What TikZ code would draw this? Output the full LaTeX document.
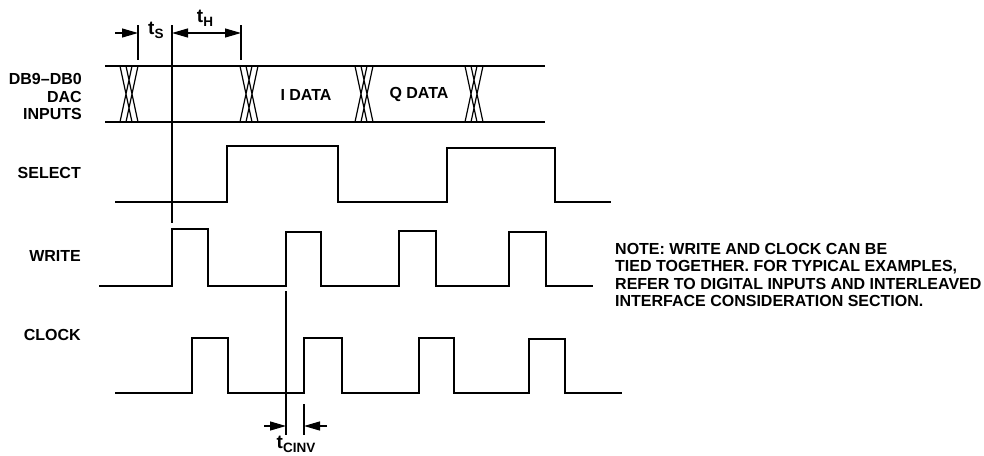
\documentclass[tikz,border=0pt]{standalone}
\usepackage{fontspec}
\setmainfont{Liberation Sans}
\usetikzlibrary{arrows.meta}
\newcommand{\tlabel}[1]{{\fontsize{19}{19}\selectfont t}\raisebox{-4pt}{\fontsize{13.5}{13.5}\selectfont #1}}

\begin{document}
\begin{tikzpicture}[x=1pt,y=-1pt]
	\tikzstyle{signal} = [draw=black, line width=1.6pt]
	\tikzstyle{thin} = [draw=black, line width=1.2pt]
	\tikzstyle{dimen} = [draw=black, line width=1.2pt, -{Triangle[length=16pt,width=9pt]}]
	\tikzstyle{lbl} = [inner sep=0pt, font=\bfseries\fontsize{16}{17.5}\selectfont]
	\useasboundingbox (0,0) rectangle (984,455);
	% bus
	\draw[signal] (105,66) -- (545,66);
	\draw[signal] (105,122) -- (545,122);
	\draw[thin] (120,66) -- (132,122) (132,66) -- (120,122) (126,66) -- (138,122) (138,66) -- (126,122);
	\draw[thin] (240,66) -- (252,122) (252,66) -- (240,122) (246,66) -- (258,122) (258,66) -- (246,122);
	\draw[thin] (355,66) -- (367,122) (367,66) -- (355,122) (361,66) -- (373,122) (373,66) -- (361,122);
	\draw[thin] (465,66) -- (477,122) (477,66) -- (465,122) (471,66) -- (483,122) (483,66) -- (471,122);
	% waveforms
	\draw[signal] (115,202) -- (227,202) -- (227,146) -- (338,146) -- (338,202) -- (447,202) -- (447,148) -- (555,148) -- (555,202) -- (611,202);
	\draw[signal] (99,286) -- (172,286) -- (172,229) -- (208,229) -- (208,286) -- (286,286) -- (286,232) -- (321,232) -- (321,286) -- (399,286) -- (399,231) -- (436,231) -- (436,286) -- (509,286) -- (509,232) -- (546,232) -- (546,286) -- (593,286);
	\draw[signal] (115,393) -- (192,393) -- (192,338) -- (228,338) -- (228,393) -- (304,393) -- (304,338) -- (342,338) -- (342,393) -- (419,393) -- (419,338) -- (454,338) -- (454,393) -- (529,393) -- (529,339) -- (565,339) -- (565,393) -- (622,393);
	% timing marks
	\coordinate (s0) at (138,25);
	\coordinate (s1) at (138,60);
	\coordinate (m0) at (172,25);
	\coordinate (m1) at (172,223);
	\coordinate (h0) at (241,25);
	\coordinate (h1) at (241,60);
	\coordinate (w0) at (286,291);
	\coordinate (w1) at (286,435);
	\coordinate (c0) at (304,404);
	\coordinate (c1) at (304,435);
	\draw[thin] (s0) -- (s1);
	\draw[thin] (m0) -- (m1);
	\draw[thin] (h0) -- (h1);
	\draw[thin] (w0) -- (w1);
	\draw[thin] (c0) -- (c1);
	\coordinate (sa) at (115,33);
	\coordinate (sb) at (138,33);
	\coordinate (ha) at (172,33);
	\coordinate (hb) at (241,33);
	\coordinate (ca) at (264,426);
	\coordinate (cb) at (286,426);
	\coordinate (cc) at (327,426);
	\coordinate (cd) at (304,426);
	\draw[dimen] (sa) -- (sb);
	\draw[dimen, {Triangle[length=16pt,width=9pt]}-{Triangle[length=16pt,width=9pt]}] (ha) -- (hb);
	\draw[dimen] (ca) -- (cb);
	\draw[dimen] (cc) -- (cd);
	% labels
	\node[lbl, align=right, anchor=east] (inputs) at (82,96.5) {DB9–DB0\\DAC\\INPUTS};
	\node[lbl, anchor=east] (select) at (81,173) {SELECT};
	\node[lbl, anchor=east] (write) at (81,256) {WRITE};
	\node[lbl, anchor=east] (clock) at (81,335) {CLOCK};
	\node[lbl] (idata) at (306,95) {I DATA};
	\node[lbl] (qdata) at (419,94) {Q DATA};
	\node[lbl, anchor=west] (ts) at (148,30) {\tlabel{S}};
	\node[lbl, anchor=center] (th) at (205,18) {\tlabel{H}};
	\node[lbl, anchor=center] (tc) at (296,444.5) {\tlabel{CINV}};
	\node[lbl, align=left, anchor=west] (note) at (615,275) {NOTE: WRITE AND CLOCK CAN BE\\TIED TOGETHER. FOR TYPICAL EXAMPLES,\\REFER TO DIGITAL INPUTS AND INTERLEAVED\\INTERFACE CONSIDERATION SECTION.};
\end{tikzpicture}
\end{document}
